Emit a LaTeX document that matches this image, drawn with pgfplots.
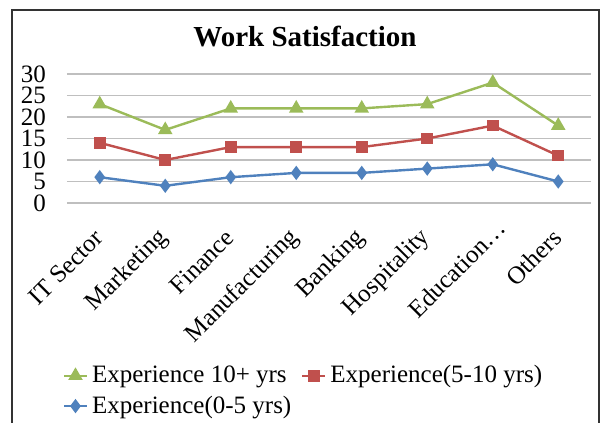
\documentclass[border=0pt]{standalone}
\usepackage{fontspec}
\setmainfont{Liberation Serif}
\usepackage{pgfplots}
\pgfplotsset{compat=1.18}
\definecolor{expHigh}{HTML}{9BBB59}
\definecolor{expMid}{HTML}{C0504D}
\definecolor{expLow}{HTML}{4F81BD}
\begin{document}
\begin{tikzpicture}
\useasboundingbox (0pt,0pt) rectangle (303pt,211.5pt);
% chart frame (open at the bottom)
\draw[line width=0.8pt, black!80] (6pt,0pt) -- (6pt,206.5pt) -- (299.5pt,206.5pt) -- (299.5pt,0pt);
\node[font=\fontsize{14.5}{17}\selectfont\bfseries] at (152.5pt,193pt) {Work Satisfaction};
\begin{axis}[
  at={(33.5pt,110pt)}, anchor=south west,
  scale only axis, width=262pt, height=64.5pt,
  ymin=0, ymax=30, xmin=-0.5, xmax=7.5,
  xtick={0,...,7},
  xticklabels={IT Sector,Marketing,Finance,Manufacturing,Banking,Hospitality,Education\ldots\hspace*{-7pt},Others},
  ytick={0,5,...,30},
  ymajorgrids,
  grid style={line width=0.75pt, color=black!25},
  axis line style={draw=none},
  major tick length=0pt,
  tick label style={font=\fontsize{12.5}{14}\selectfont},
  /pgf/number format/assume math mode=true,
  yticklabel style={xshift=-7pt},
  xticklabel style={xshift=2pt, yshift=-13pt, rotate=45, anchor=east},
  legend columns=2,
  legend style={at={(-0.02,-1.195)}, anchor=north west, draw=none, fill=none,
    font=\fontsize{12.5}{14}\selectfont, column sep=0pt, row sep=1pt,
    /tikz/every even column/.append style={column sep=3pt}},
  legend cell align=left,
  legend image code/.code={\draw[mark repeat=2,mark phase=2, line width=1.2pt] plot coordinates {(0cm,0cm)(0.2cm,0cm)(0.4cm,0cm)};},
  every axis plot/.append style={line width=1.2pt},
]
\addplot[color=expHigh, mark=triangle*, mark size=3pt, mark options={solid}] coordinates {
  (0,23) (1,17) (2,22) (3,22) (4,22) (5,23) (6,28) (7,18)};
\addlegendentry{Experience 10+ yrs}
\addplot[color=expMid, mark=square*, mark size=2.3pt] coordinates {
  (0,14) (1,10) (2,13) (3,13) (4,13) (5,15) (6,18) (7,11)};
\addlegendentry{Experience(5-10 yrs)}
\addplot[color=expLow, mark=diamond*, mark size=2.6pt] coordinates {
  (0,6) (1,4) (2,6) (3,7) (4,7) (5,8) (6,9) (7,5)};
\addlegendentry{Experience(0-5 yrs)}
\end{axis}
\end{tikzpicture}
\end{document}
